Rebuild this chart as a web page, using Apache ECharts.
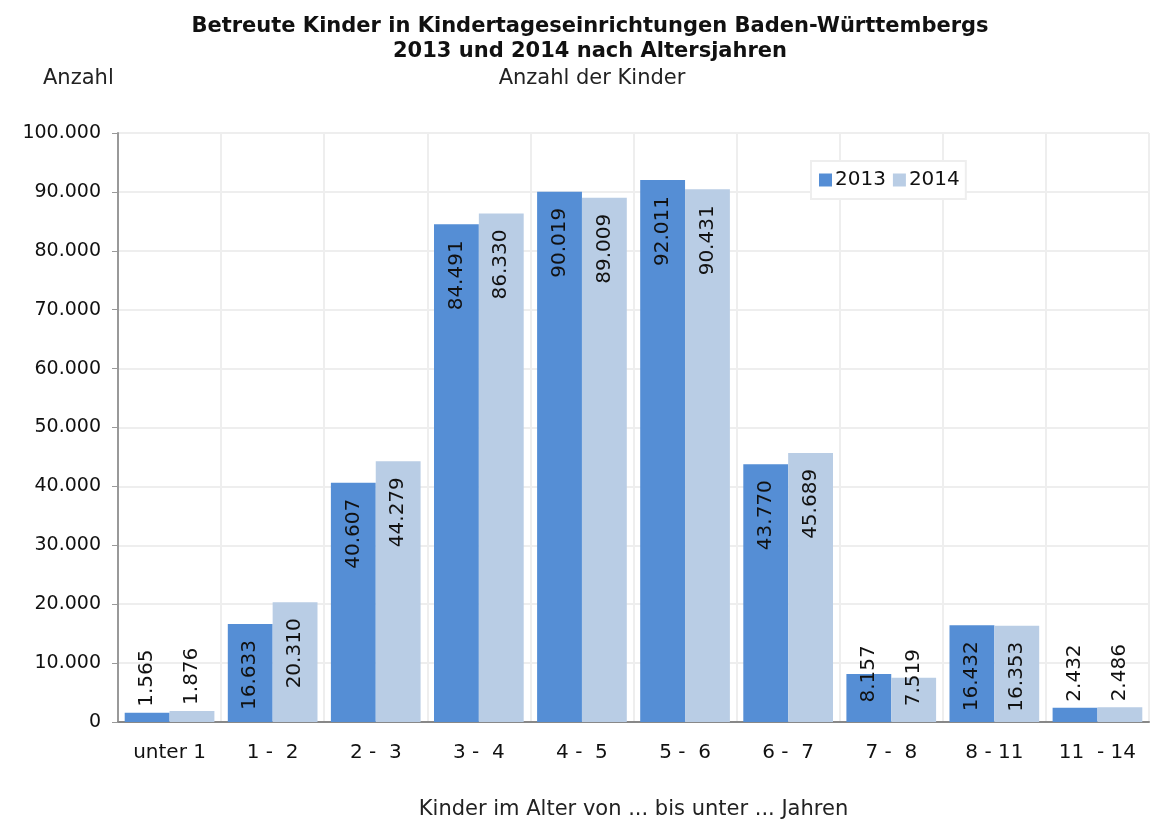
<!DOCTYPE html>
<html>
<head>
<meta charset="utf-8">
<script src="https://cdn.jsdelivr.net/npm/echarts@6/dist/echarts.min.js"></script>
<style>
  html, body { margin: 0; padding: 0; background: #fff; }
  #chart { width: 1150px; height: 820px; }
</style>
</head>
<body>
<div id="chart"></div>
<script>
// Daten
var categories = ['unter 1', '1 -  2', '2 -  3', '3 -  4', '4 -  5', '5 -  6', '6 -  7', '7 -  8', '8 - 11', '11  - 14'];
var values2013 = [1565, 16633, 40607, 84491, 90019, 92011, 43770, 8157, 16432, 2432];
var values2014 = [1876, 20310, 44279, 86330, 89009, 90431, 45689, 7519, 16353, 2486];
var yTicks = [0, 10000, 20000, 30000, 40000, 50000, 60000, 70000, 80000, 90000, 100000];

var font = 'DejaVu Sans';

function fmt(v) {
  return String(v).replace(/\B(?=(\d{3})+(?!\d))/g, '.');
}

// Beschriftung je nach Balkenhöhe
function labelFor(v) {
  var base = { show: true, rotate: 90, fontFamily: font, fontSize: 20, color: '#111', formatter: function (p) { return fmt(p.value); } };
  if (v < 5000) {
    return Object.assign(base, { position: 'top', align: 'left', verticalAlign: 'middle', distance: 6 });
  }
  if (v < 12000) {
    return Object.assign(base, { position: 'top', align: 'center', verticalAlign: 'middle', distance: 0 });
  }
  return Object.assign(base, { position: 'insideTop', align: 'right', verticalAlign: 'middle', distance: 16 });
}

function toData(arr) {
  return arr.map(function (v) { return { value: v, label: labelFor(v) }; });
}

var chart = echarts.init(document.getElementById('chart'));
chart.setOption({
  animation: false,
  textStyle: { fontFamily: font },
  title: [
    {
      text: 'Betreute Kinder in Kindertageseinrichtungen Baden-Württembergs\n2013 und 2014 nach Altersjahren',
      left: 585, top: 9, textAlign: 'center',
      textStyle: { fontFamily: font, fontSize: 21, fontWeight: 'bold', color: '#111', lineHeight: 25 }
    },
    {
      text: 'Anzahl der Kinder',
      left: 587, top: 63, textAlign: 'center',
      textStyle: { fontFamily: font, fontSize: 21, fontWeight: 'normal', color: '#222' }
    },
    {
      text: 'Anzahl',
      left: 38, top: 63,
      textStyle: { fontFamily: font, fontSize: 21, fontWeight: 'normal', color: '#222' }
    }
  ],
  legend: {
    left: 811, top: 161,
    itemWidth: 13, itemHeight: 13, itemGap: 7,
    icon: 'rect',
    borderColor: '#eeeeee', borderWidth: 2, padding: [9, 6, 9, 8],
    backgroundColor: '#fff',
    textStyle: { fontFamily: font, fontSize: 20, color: '#111', padding: [0, 0, 0, -2] },
    data: ['2013', '2014']
  },
  grid: { left: 118, right: 1, top: 133, bottom: 98, outerBoundsMode: 'none', containLabel: false },
  xAxis: {
    type: 'category',
    data: categories,
    name: 'Kinder im Alter von ... bis unter ... Jahren',
    nameLocation: 'middle', nameGap: 77,
    nameTextStyle: { fontFamily: font, fontSize: 21, color: '#222' },
    axisLine: { lineStyle: { color: '#888', width: 2 } },
    axisTick: { show: false },
    axisLabel: { fontFamily: font, fontSize: 20, color: '#111', margin: 21 },
    splitLine: { show: true, lineStyle: { color: '#eeeeee', width: 2 } }
  },
  yAxis: {
    type: 'value',
    min: yTicks[0], max: yTicks[yTicks.length - 1], interval: 10000,
    axisLine: { show: true, lineStyle: { color: '#999', width: 2 } },
    axisTick: { show: true, inside: false, length: 6, lineStyle: { color: '#999' } },
    axisLabel: { fontFamily: font, fontSize: 19, color: '#111', margin: 17, formatter: function (v) { return fmt(v); } },
    splitLine: { lineStyle: { color: '#eeeeee', width: 2 } }
  },
  series: [
    {
      name: '2013', type: 'bar',
      data: toData(values2013),
      barGap: '0%', barCategoryGap: '13%',
      itemStyle: { color: '#558ed5' }
    },
    {
      name: '2014', type: 'bar',
      data: toData(values2014),
      barGap: '0%', barCategoryGap: '13%',
      itemStyle: { color: '#b9cde5' }
    }
  ]
});
</script>
</body>
</html>
